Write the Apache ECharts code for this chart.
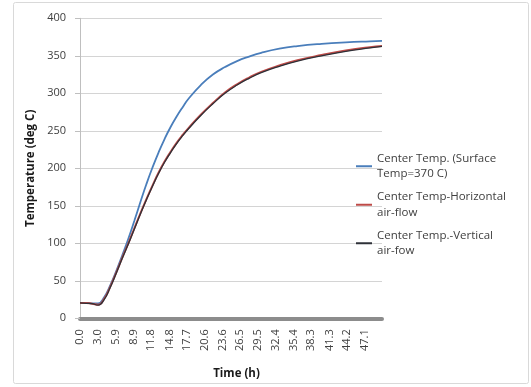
<!DOCTYPE html>
<html><head><meta charset="utf-8">
<script src="https://cdn.jsdelivr.net/npm/echarts@6/dist/echarts.min.js"></script>
<style>html,body{margin:0;padding:0;background:#fff}#c{width:531px;height:387px}</style>
</head><body><div id="c"></div>
<script>
var times = [0,1,2,3,4,5,6,7,8,9,10,11,12,13,14,15,16,17,18,20,22,24,26,28,30,33,36,40,44,48,50];
var blueVals  = [20.5,20.5,20,20,28,44,63,84,106,130,155,179,201,221,239,255,269,281.5,293,311,325,335,343,349,354,359.5,363,366,368,369.3,369.8];
var redVals   = [20.5,20.5,19.5,18,26,42,61,81,100,120,140,159,177,194,209,222,234,244.5,254,271.5,287,301,312,321,328.5,337,344,351,357,361.5,363];
var blackVals = [20.5,20,19.5,17.5,25,41,60,80,99,119,139,158,176,193,208,221,233,243.5,253,270.5,286,300,311,320,327.5,336,343,350,356,360.5,362.5];
var seriesNames = ['Center Temp. (Surface\nTemp=370 C)','Center Temp-Horizontal\nair-flow','Center Temp.-Vertical\nair-fow'];
var xTickLabels = ['0.0','3.0','5.9','8.9','11.8','14.8','17.7','20.6','23.6','26.5','29.5','32.4','35.4','38.3','41.3','44.2','47.1'];
var xTitle = 'Time (h)';
var yTitle = 'Temperature (deg C)';

var colors = ['#4a7ebb','#be4b48','#2e3138'];
var font = 'Open Sans';
function pairs(v){ return times.map(function(t,i){ return [t, v[i]]; }); }
var chart = echarts.init(document.getElementById('c'));
chart.setOption({
  animation: false,
  color: colors,
  graphic: [{type:'rect', shape:{x:13.5,y:2.5,width:515,height:381,r:2}, style:{fill:'none',stroke:'#d9d9d9',lineWidth:1}, z:-1}],
  grid: {left:80, right:149, top:18.3, bottom:68.7},
  legend: {
    orient:'vertical', left:356, top:143, padding:0, itemGap:-8,
    icon:'rect', itemWidth:16, itemHeight:2,
    textStyle:{fontFamily:font, fontSize:11.5, color:'#404040', lineHeight:15.5, padding:[15.5,0,0,0]},
    data: seriesNames
  },
  xAxis: {
    type:'value', min:0, max:50, offset:2,
    name:xTitle, nameLocation:'middle', nameGap:47,
    nameTextStyle:{fontFamily:font, fontSize:11.5, fontWeight:'bold', color:'#1a1a1a', padding:[0,0,0,11]},
    axisLine:{show:true, lineStyle:{color:'#8c8c8c', width:4}},
    axisTick:{show:false},
    splitLine:{show:false},
    axisLabel:{customValues: xTickLabels.map(Number), formatter:function(v){return v.toFixed(1);},
      rotate:90, margin:9, fontFamily:font, fontSize:11, color:'#404040', showMinLabel:true, showMaxLabel:true}
  },
  yAxis: {
    type:'value', min:0, max:400, interval:50,
    name:yTitle, nameLocation:'middle', nameGap:40,
    nameTextStyle:{fontFamily:font, fontSize:11.5, fontWeight:'bold', color:'#1a1a1a'},
    axisLine:{show:true, lineStyle:{color:'#bfbfbf', width:1}},
    axisTick:{show:true, length:5, lineStyle:{color:'#bfbfbf'}},
    splitLine:{lineStyle:{color:'#d4d4d4', width:1}},
    axisLabel:{margin:14, fontFamily:font, fontSize:11, color:'#404040'}
  },
  series: [
    {name:seriesNames[0], type:'line', data:pairs(blueVals), symbol:'none', smooth:0.5, lineStyle:{width:1.8}},
    {name:seriesNames[1], type:'line', data:pairs(redVals), symbol:'none', smooth:0.5, lineStyle:{width:2}},
    {name:seriesNames[2], type:'line', data:pairs(blackVals), symbol:'none', smooth:0.5, lineStyle:{width:1.3}}
  ]
});
</script></body></html>
